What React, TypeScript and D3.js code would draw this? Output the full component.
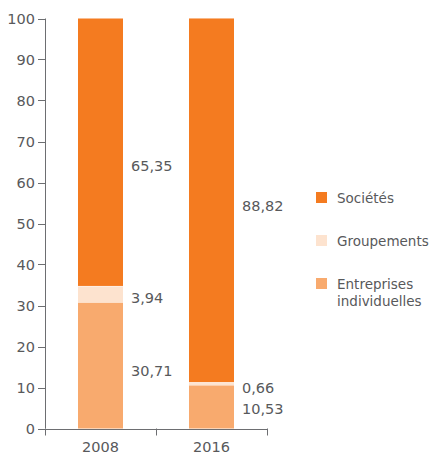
import React from "react";
import * as d3 from "d3";

const years = ["2008", "2016"];
const series = ["Entreprises individuelles", "Groupements", "Sociétés"];
const entreprises = [30.71, 10.53];
const groupements = [3.94, 0.66];
const societes = [65.35, 88.82];
const valueLabels = [
  ["30,71", "3,94", "65,35"],
  ["10,53", "0,66", "88,82"],
];
// label anchor (in axis units) for each value label
const labelAt = [
  [14.1, 32, 64.1],
  [4.9, 10, 54.4],
];
const yTicks = [0, 10, 20, 30, 40, 50, 60, 70, 80, 90, 100];
const legendItems = [
  { key: "Sociétés", lines: ["Sociétés"] },
  { key: "Groupements", lines: ["Groupements"] },
  { key: "Entreprises individuelles", lines: ["Entreprises", "individuelles"] },
];
const colors: Record<string, string> = {
  "Sociétés": "#F47B20",
  "Groupements": "#FDE3CF",
  "Entreprises individuelles": "#F8AA6E",
};

export default function App() {
  const W = 430, H = 456;
  const x0 = 45, x1 = 267;
  const y = d3.scaleLinear().domain([0, 100]).range([428.5, 18.5]);
  const x = d3.scaleBand().domain(years).range([x0, x1]).paddingInner(0).paddingOuter(0);
  const barW = 45;
  const data = years.map((yr, i) => ({
    year: yr,
    "Entreprises individuelles": entreprises[i],
    "Groupements": groupements[i],
    "Sociétés": societes[i],
  }));
  const stack = d3.stack<any>().keys(series)(data);
  const font = "DejaVu Sans, sans-serif";
  const txt = "#58595b";
  return (
    <svg width={W} height={H} style={{ position: "absolute", left: 0, top: 0 }} fontFamily={font}>
      {stack.map((s) =>
        s.map((d, i) => {
          const cx = (x(years[i]) as number) + x.bandwidth() / 2;
          return (
            <rect
              key={s.key + i}
              x={cx - barW / 2}
              y={y(d[1])}
              width={barW}
              height={y(d[0]) - y(d[1])}
              fill={colors[s.key]}
            />
          );
        })
      )}
      {/* thin separator in 2016 */}
      {years.map((yr, i) => {
        const cx = (x(yr) as number) + x.bandwidth() / 2;
        const top = entreprises[i] + groupements[i];
        return (
          <line key={"sep" + i} x1={cx - barW / 2} x2={cx + barW / 2} y1={y(top)} y2={y(top)} stroke="#fff" strokeWidth={0.8} />
        );
      })}
      {/* value labels */}
      {valueLabels.map((arr, i) =>
        arr.map((lab, j) => {
          const cx = (x(years[i]) as number) + x.bandwidth() / 2;
          return (
            <text key={lab + i} x={cx + barW / 2 + 8} y={y(labelAt[i][j])} dy="0.36em" fontSize={14.5} fill={txt}>
              {lab}
            </text>
          );
        })
      )}
      {/* y axis */}
      <line x1={x0 + 0.5} x2={x0 + 0.5} y1={y(100)} y2={y(0)} stroke="#6d6e71" strokeWidth={1} />
      {yTicks.map((t) => (
        <g key={t}>
          <line x1={x0 - 7} x2={x0 + 0.5} y1={Math.round(y(t)) + 0.5} y2={Math.round(y(t)) + 0.5} stroke="#6d6e71" />
          <text x={x0 - 10} y={y(t)} dy="0.36em" textAnchor="end" fontSize={14.5} fill={txt}>
            {t}
          </text>
        </g>
      ))}
      {/* x axis */}
      <line x1={x0} x2={x1} y1={Math.round(y(0)) + 0.5} y2={Math.round(y(0)) + 0.5} stroke="#6d6e71" />
      {[x0, x0 + x.bandwidth(), x1].map((px, i) => (
        <line key={i} x1={Math.round(px) + 0.5} x2={Math.round(px) + 0.5} y1={y(0)} y2={y(0) + 7} stroke="#6d6e71" />
      ))}
      {years.map((yr) => (
        <text key={yr} x={(x(yr) as number) + x.bandwidth() / 2} y={447} dy="0.36em" textAnchor="middle" fontSize={14.5} fill={txt}>
          {yr}
        </text>
      ))}
      {/* legend */}
      {legendItems.map((it, i) => {
        const ly = 192 + i * 43;
        return (
          <g key={it.key}>
            <rect x={316} y={ly} width={11} height={11} fill={colors[it.key]} />
            {it.lines.map((ln, k) => (
              <text key={ln} x={337} y={ly + 6 + k * 17} dy="0.36em" fontSize={13.5} fill={txt}>
                {ln}
              </text>
            ))}
          </g>
        );
      })}
    </svg>
  );
}
